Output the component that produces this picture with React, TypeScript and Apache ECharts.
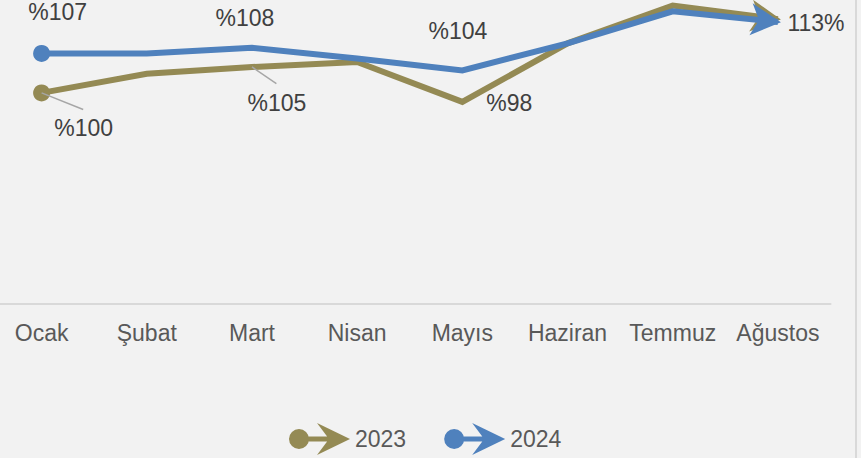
import React, { useEffect, useRef } from "react";
import * as echarts from "echarts";

const categories = ["Ocak", "Şubat", "Mart", "Nisan", "Mayıs", "Haziran", "Temmuz", "Ağustos"];
const seriesNames = ["2023", "2024"];
const values2023 = [100, 103.4, 104.6, 105.5, 98.4, 108.8, 115.5, 113.1];
const values2024 = [107, 107, 108, 106.1, 104, 108.8, 114.5, 112.6];
const labelled2023 = [0, 2, 4];
const labelled2024 = [0, 2, 4];
const yMin = 62.5;
const yMax = 116.5;

const COLORS = ["#948a54", "#4f81bd"];
const FONT = "'Liberation Sans', Arial, sans-serif";
const ARROW = "path://M0,0 L30,16 L0,32 L8,16 Z";
const LEGEND_ICON =
  "path://M0,16 A10,10 0 1,1 20,16 A10,10 0 1,1 0,16 Z M18,13.5 L44,13.5 L44,18.5 L18,18.5 Z M28,0 L61,16 L28,32 L40,16 Z";

// the chart canvas is shifted left so that the first category band starts off-page
const SHIFT = 11;
const W = 861 + SHIFT;
const H = 458;

// label offsets (pixels, relative to the data point)
const OFF2023: Record<number, number[]> = { 0: [42, 35], 2: [25, 36], 4: [47, 1] };
const OFF2024: Record<number, number[]> = { 0: [16, -41], 2: [-7, -30], 4: [-4.5, -39] };

type ArrowCfg = { rot: number; off: number[] };

function buildData(values: number[], labelled: number[], offs: Record<number, number[]>, arrow: ArrowCfg) {
  return values.map((v, i) => {
    const item: any = { value: v, symbol: "circle", symbolSize: 0 };
    if (i === 0) item.symbolSize = 17;
    if (i === values.length - 1) {
      item.symbol = ARROW;
      item.symbolSize = [30, 32];
      item.symbolRotate = arrow.rot;
      item.symbolOffset = arrow.off;
    }
    if (labelled.indexOf(i) >= 0) {
      item.label = {
        show: true,
        position: "inside",
        offset: offs[i],
        align: "center",
        verticalAlign: "middle",
        formatter: "%" + Math.round(v),
        fontSize: 23,
        fontFamily: FONT,
        color: "#404040",
      };
    }
    return item;
  });
}

function buildOption(a23: ArrowCfg, a24: ArrowCfg, graphic: any[]) {
  return {
    animation: false,
    backgroundColor: "#f2f2f2",
    grid: { left: 0, right: 30.5, top: 0, height: 304, containLabel: false },
    xAxis: {
      type: "category",
      data: categories,
      boundaryGap: true,
      axisTick: { show: false },
      axisLine: { show: true, lineStyle: { color: "#d9d9d9", width: 2 } },
      axisLabel: { fontSize: 23, fontFamily: FONT, color: "#595959", margin: 17, interval: 0 },
    },
    yAxis: { type: "value", min: yMin, max: yMax, show: false, splitLine: { show: false } },
    legend: {
      left: 284 + SHIFT,
      top: 418,
      itemWidth: 61,
      itemHeight: 32,
      itemGap: 38,
      icon: LEGEND_ICON,
      itemStyle: { borderWidth: 0 },
      textStyle: { fontSize: 23, fontFamily: FONT, color: "#595959" },
      data: seriesNames,
    },
    graphic,
    series: [
      {
        name: seriesNames[0],
        type: "line",
        color: COLORS[0],
        lineStyle: { width: 6, color: COLORS[0], join: "miter" },
        itemStyle: { color: COLORS[0] },
        showSymbol: true,
        data: buildData(values2023, labelled2023, OFF2023, a23),
        z: 2,
      },
      {
        name: seriesNames[1],
        type: "line",
        color: COLORS[1],
        lineStyle: { width: 6, color: COLORS[1], join: "miter" },
        itemStyle: { color: COLORS[1] },
        showSymbol: true,
        data: buildData(values2024, labelled2024, OFF2024, a24),
        endLabel: {
          show: true,
          distance: 9.5,
          offset: [0, 1.5],
          formatter: (p: any) => Math.round(p.value) + "%",
          fontSize: 23,
          fontFamily: FONT,
          color: "#404040",
        },
        z: 3,
      },
    ],
  };
}

export default function App() {
  const ref = useRef<HTMLDivElement>(null);
  useEffect(() => {
    document.body.style.margin = "0";
    document.body.style.overflow = "hidden";
    const chart = echarts.init(ref.current as HTMLDivElement, null, { renderer: "svg" });
    const zero: ArrowCfg = { rot: 0, off: [-12, 0] };
    chart.setOption(buildOption(zero, zero, []));

    const arrowFor = (s: number, values: number[]): ArrowCfg => {
      const n = values.length;
      const p1 = chart.convertToPixel({ seriesIndex: s }, [n - 2, values[n - 2]]) as number[];
      const p2 = chart.convertToPixel({ seriesIndex: s }, [n - 1, values[n - 1]]) as number[];
      const th = Math.atan2(p2[1] - p1[1], p2[0] - p1[0]);
      return { rot: (-th * 180) / Math.PI, off: [-12 * Math.cos(th), -12 * Math.sin(th)] };
    };
    const a23 = arrowFor(0, values2023);
    const a24 = arrowFor(1, values2024);

    const leader = (i: number, dx: number, dy: number) => {
      const p = chart.convertToPixel({ seriesIndex: 0 }, [i, values2023[i]]) as number[];
      return {
        type: "line",
        z: 5,
        shape: { x1: p[0], y1: p[1], x2: p[0] + dx, y2: p[1] + dy },
        style: { stroke: "#a6a6a6", lineWidth: 1.5 },
      };
    };
    const graphic = [
      leader(0, 41.6, 16.6),
      leader(2, 24.4, 16.6),
      { type: "rect", shape: { x: 855 + SHIFT, y: 0, width: 2, height: H }, style: { fill: "#d9d9d9" } },
    ];
    chart.setOption(buildOption(a23, a24, graphic), { notMerge: true });
    return () => chart.dispose();
  }, []);
  return (
    <div style={{ width: 861, height: H, overflow: "hidden", position: "relative" }}>
      <div ref={ref} style={{ position: "absolute", left: -SHIFT, top: 0, width: W, height: H }} />
    </div>
  );
}
